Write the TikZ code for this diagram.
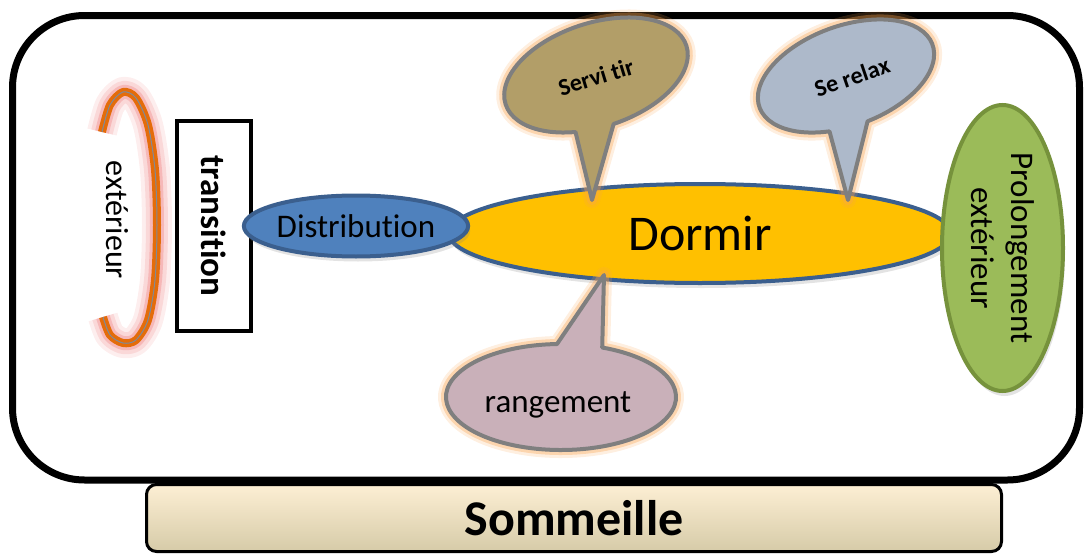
\documentclass[tikz,border=0pt]{standalone}
\usepackage{fontspec}
\setmainfont{Carlito}[Ligatures={NoCommon,NoContextual}]
\usetikzlibrary{shapes.geometric,shadows}
\definecolor{dormirfill}{HTML}{FFC000}
\definecolor{blueedge}{HTML}{3B5F8E}
\definecolor{distfill}{HTML}{4F81BD}
\definecolor{greenfill}{HTML}{9BBB59}
\definecolor{greenedge}{HTML}{76923C}
\definecolor{servifill}{HTML}{B29E68}
\definecolor{relaxfill}{HTML}{ADB9CA}
\definecolor{rangefill}{HTML}{C9B0B9}
\definecolor{calloutedge}{HTML}{7F7F7F}
\definecolor{glowcol}{HTML}{F9A452}
\definecolor{brk}{HTML}{E46C0A}
\definecolor{brkglow}{HTML}{F08A8A}
\definecolor{brkline}{HTML}{7F8A99}
\definecolor{somtop}{HTML}{FDEFD4}
\definecolor{sommid}{HTML}{F3EDDA}
\definecolor{sombot}{HTML}{D6CBA8}
\begin{document}
\begin{tikzpicture}[x=1pt,y=-1pt,
  txt/.style={font=\fontsize{33pt}{40pt}\selectfont, text=black, align=center},
  bubble/.style={draw=calloutedge, line width=4pt, line join=round},
  bubbleglowA/.style={draw=glowcol, line width=16pt, line join=round, opacity=0.18},
  bubbleglowB/.style={draw=glowcol, line width=10pt, line join=round, opacity=0.35},
  blob/.style={ellipse, line width=4pt, inner sep=0pt},
  softshadow/.style={drop shadow={opacity=0.22, shadow xshift=2pt, shadow yshift=-5pt}},
  brkpath/.style={line cap=butt, line join=round}
]
\useasboundingbox (0,0) rectangle (1085,554);

% main frame
\draw[line width=7pt, rounded corners=72pt] (12.5,15.5) rectangle (1079.5,480);

% Sommeille box
\node[draw=black, line width=3pt, rounded corners=10pt, top color=somtop, middle color=sommid, bottom color=sombot,
      minimum width=855pt, minimum height=67pt, inner sep=0pt,
      font=\fontsize{50pt}{60pt}\selectfont\bfseries] (somm) at (574,518) {Sommeille};

% orange bracket
\def\brkcoords{(102,132) (110,105) (123,92) (136,98) (148,125) (155,170) (157,225) (155,280) (148,320) (136,340) (123,343) (110,335) (103,317)}
\draw[brkpath, brkglow, line width=30pt, opacity=0.15] plot[smooth] coordinates {\brkcoords};
\draw[brkpath, brkglow, line width=22pt, opacity=0.22] plot[smooth] coordinates {\brkcoords};
\draw[brkpath, brkglow, line width=14pt, opacity=0.4] plot[smooth] coordinates {\brkcoords};
\draw[brkpath, brk, line width=8pt] plot[smooth] coordinates {\brkcoords};
\draw[brkpath, brkline, line width=1pt] plot[smooth] coordinates {\brkcoords};
\node[txt, rotate=-90, font=\fontsize{32pt}{38pt}\selectfont] (ext) at (117,220) {extérieur};

% transition box
\node[draw=black, line width=4pt, minimum width=210pt, minimum height=74pt, inner sep=0pt, rotate=-90,
      font=\fontsize{35pt}{42pt}\selectfont\bfseries] (trans) at (214,226) {transition};

% Dormir
\node[blob, draw=blueedge, fill=dormirfill, minimum width=502pt, minimum height=99pt, softshadow,
      font=\fontsize{50pt}{60pt}\selectfont] (dormir) at (700,233.5) {Dormir};

% Distribution
\node[blob, draw=blueedge, fill=distfill, minimum width=204pt, minimum height=61pt, softshadow, txt] (dist) at (356,226) {Distribution};

% Prolongement
\node[blob, draw=greenedge, fill=greenfill, minimum width=286pt, minimum height=121pt, rotate=-90, softshadow, txt] (prol) at (1002.5,248) {Prolongement\\extérieur};

% callout Servi tir
\coordinate (tipS) at (592,200);
\begin{scope}[shift={(596,75)}, rotate=18]
  \path[bubbleglowA] (113:95 and 52) arc[start angle=113, end angle=449, x radius=95, y radius=52] -- (tipS) -- cycle;
  \path[bubbleglowB] (113:95 and 52) arc[start angle=113, end angle=449, x radius=95, y radius=52] -- (tipS) -- cycle;
  \path[bubble, fill=servifill] (113:95 and 52) arc[start angle=113, end angle=449, x radius=95, y radius=52] -- (tipS) -- cycle;
\end{scope}
\node[rotate=17, font=\fontsize{24pt}{28pt}\selectfont\bfseries] (servi) at (596,77) {Servi tir};

% callout Se relax
\coordinate (tipR) at (848,200);
\begin{scope}[shift={(846,76)}, rotate=20]
  \path[bubbleglowA] (112:92 and 50) arc[start angle=112, end angle=447, x radius=92, y radius=50] -- (tipR) -- cycle;
  \path[bubbleglowB] (112:92 and 50) arc[start angle=112, end angle=447, x radius=92, y radius=50] -- (tipR) -- cycle;
  \path[bubble, fill=relaxfill] (112:92 and 50) arc[start angle=112, end angle=447, x radius=92, y radius=50] -- (tipR) -- cycle;
\end{scope}
\node[rotate=19, font=\fontsize{24pt}{28pt}\selectfont\bfseries] (relax) at (852,77) {Se relax};

% callout rangement
\coordinate (tipG) at (604,275);
\begin{scope}[shift={(561,397)}]
  \path[bubbleglowA] (291:115 and 53) arc[start angle=291, end angle=628, x radius=115, y radius=53] -- (tipG) -- cycle;
  \path[bubbleglowB] (291:115 and 53) arc[start angle=291, end angle=628, x radius=115, y radius=53] -- (tipG) -- cycle;
  \path[bubble, fill=rangefill] (291:115 and 53) arc[start angle=291, end angle=628, x radius=115, y radius=53] -- (tipG) -- cycle;
\end{scope}
\node[txt] (range) at (558,405) {rangement};
\end{tikzpicture}
\end{document}
